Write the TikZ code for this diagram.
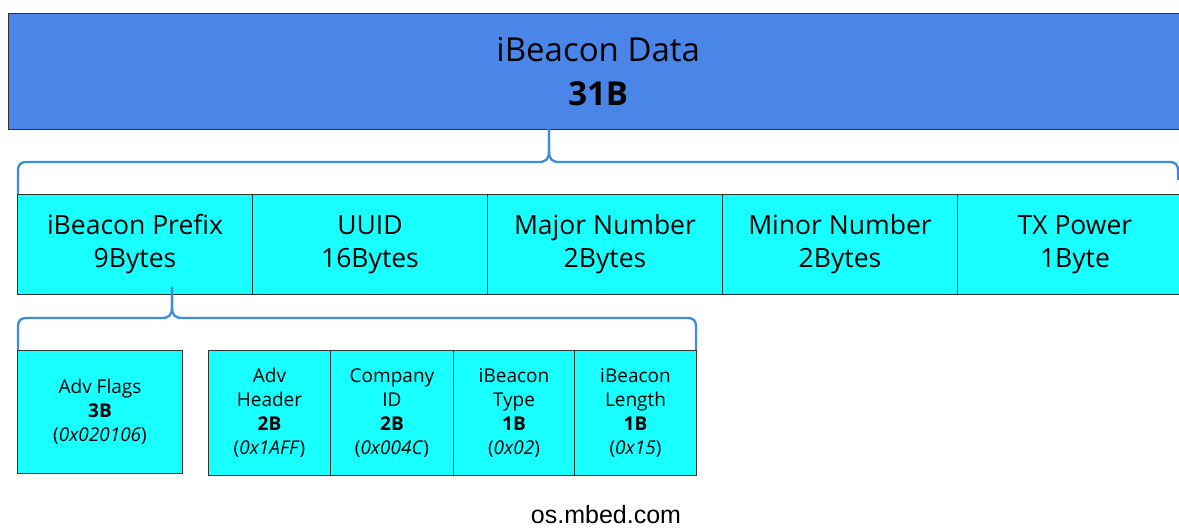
\documentclass[tikz,border=0pt]{standalone}
\usepackage{fontspec}
\setmainfont{Open Sans}
\newfontfamily\footfont{Liberation Sans}
\definecolor{topblue}{HTML}{4A86E8}
\definecolor{cyanbox}{HTML}{18FFFF}
\definecolor{bracecol}{HTML}{3C8DDE}
\definecolor{edgecol}{HTML}{333333}
\tikzset{
  topbox/.style={draw=edgecol, line width=1.4pt, fill=topblue, anchor=north west, inner sep=0pt,
    minimum width=1179pt, minimum height=116pt, align=center, font=\fontsize{33}{44}\selectfont},
  rowbox/.style={draw=edgecol, line width=1pt, fill=cyanbox, anchor=north west, inner sep=0pt,
    minimum width=235pt, minimum height=100pt, align=center, font=\fontsize{26.5}{33}\selectfont},
  subbox/.style={draw=edgecol, line width=1pt, fill=cyanbox, anchor=north west, inner sep=0pt,
    minimum height=125pt, align=center, font=\fontsize{19}{24}\selectfont},
  bracepath/.style={draw=bracecol, line width=2.3pt, line join=round},
}
\begin{document}
\begin{tikzpicture}[x=1pt,y=-1pt]
\useasboundingbox (0,0) rectangle (1179,529);
\clip (0,0) rectangle (1179,529);
% top box
\node[topbox] (top) at (8,13) {iBeacon Data\\\textbf{31B}};
% row
\node[rowbox] (prefix) at (17,194) {iBeacon Prefix\\9Bytes};
\node[rowbox] (uuid) at (252,194) {UUID\\16Bytes};
\node[rowbox] (major) at (487,194) {Major Number\\2Bytes};
\node[rowbox] (minor) at (722,194) {Minor Number\\2Bytes};
\node[rowbox] (tx) at (957,194) {TX Power\\1Byte};
% sub boxes
\node[subbox, minimum width=165pt, minimum height=123pt] (flags) at (17,350) {Adv Flags\\\textbf{3B}\\(\textit{0x020106})};
\node[subbox, minimum width=122pt] (hdr) at (208,350) {Adv\\Header\\\textbf{2B}\\(\textit{0x1AFF})};
\node[subbox, minimum width=123pt] (comp) at (330,350) {Company\\ID\\\textbf{2B}\\(\textit{0x004C})};
\node[subbox, minimum width=121pt] (type) at (453,350) {iBeacon\\Type\\\textbf{1B}\\(\textit{0x02})};
\node[subbox, minimum width=122pt] (len) at (574,350) {iBeacon\\Length\\\textbf{1B}\\(\textit{0x15})};
% braces
\coordinate (b1l) at (18,194);
\coordinate (b1t) at (549,129);
\coordinate (b1r) at (1178,180);
\draw[bracepath] (b1l) -- (18,172) .. controls (18,164) and (20,162) .. (28,162)
  -- (538,162) .. controls (546,162) and (549,160) .. (549,150) -- (b1t);
\draw[bracepath] (b1t) -- (549,150) .. controls (549,160) and (552,162) .. (560,162)
  -- (1168,162) .. controls (1176,162) and (1178,164) .. (1178,172) -- (b1r);
\coordinate (b2l) at (18,350);
\coordinate (b2t) at (172,287);
\coordinate (b2r) at (696,350);
\draw[bracepath] (b2l) -- (18,328) .. controls (18,320) and (20,318) .. (28,318)
  -- (161,318) .. controls (169,318) and (172,316) .. (172,306) -- (b2t);
\draw[bracepath] (b2t) -- (172,306) .. controls (172,316) and (175,318) .. (183,318)
  -- (686,318) .. controls (694,318) and (696,320) .. (696,328) -- (b2r);
% footer
\node[anchor=base, inner sep=0pt, font=\footfont\fontsize{25}{30}\selectfont] (foot) at (606,523) {os.mbed.com};
\end{tikzpicture}
\end{document}
